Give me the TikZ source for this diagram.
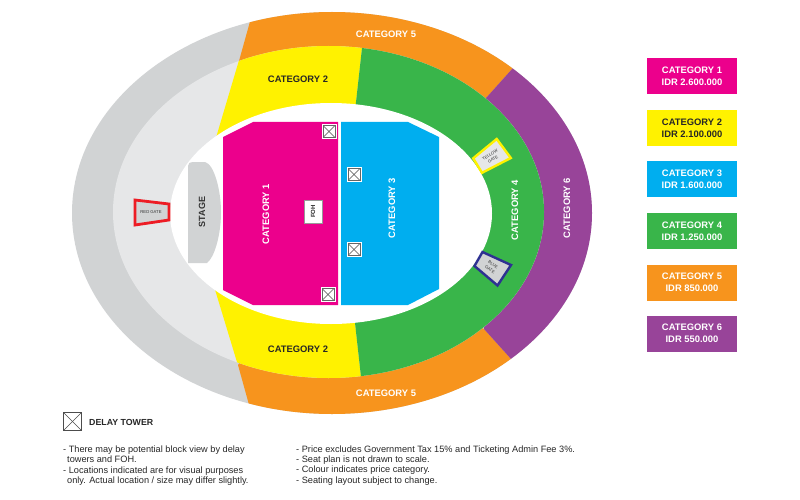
\documentclass[tikz,border=0pt]{standalone}
\usepackage{fontspec}
\setmainfont{Liberation Sans}
\definecolor{catpink}{HTML}{EC008C}
\definecolor{catyellow}{HTML}{FFF200}
\definecolor{catblue}{HTML}{00AEEF}
\definecolor{catgreen}{HTML}{39B54A}
\definecolor{catorange}{HTML}{F7941D}
\definecolor{catpurple}{HTML}{984499}
\definecolor{seatgray}{HTML}{D1D3D4}
\definecolor{floorgray}{HTML}{E6E7E8}
\definecolor{gatered}{HTML}{ED1C24}
\definecolor{gatenavy}{HTML}{2E3192}
\tikzset{
  lbl/.style={font=\bfseries\fontsize{9.4}{10.5}\selectfont, text=white, inner sep=0pt, align=center},
  lbldark/.style={lbl, text=black!85},
  pricebox/.style={minimum width=90, minimum height=36, inner sep=0pt, font=\bfseries\fontsize{9.4}{12}\selectfont, text=white, align=center},
  gatetxt/.style={font=\fontsize{4.2}{5.6}\selectfont, text=black!80, inner sep=0pt, align=center},
  note/.style={font=\fontsize{9.2}{10.3}\selectfont, text=black!85, inner sep=0pt, align=left, anchor=north west},
  crossed/.style={path picture={
      \draw[black!70, line width=0.6pt] (path picture bounding box.north west) -- (path picture bounding box.south east);
      \draw[black!70, line width=0.6pt] (path picture bounding box.north east) -- (path picture bounding box.south west);}},
  tower/.style={crossed, draw=black!60, line width=0.5pt, fill=white, minimum size=12, inner sep=0pt,
      preaction={draw=white, line width=3pt}},
}
\begin{document}
\begin{tikzpicture}[x=1pt, y=-1pt]
        \useasboundingbox (0, 0) rectangle (800, 500);

        % Outer ring
        \fill[seatgray] (332, 213) ellipse [x radius=260, y radius=201];
        \begin{scope}
            \clip (256, 0) -- (574, 0) -- (486, 98) -- (330, 200) -- (239, 61) -- cycle;
            \fill[catorange] (332, 213) ellipse [x radius=260, y radius=201]; % Top
        \end{scope}
        \begin{scope}
            \clip (256, 430) -- (575, 430) -- (484, 329) -- (330, 230) -- (238, 365) -- cycle;
            \fill[catorange] (332, 213) ellipse [x radius=260, y radius=201]; % Bottom
        \end{scope}
        \begin{scope}
            \clip (574, 0) -- (640, 0) -- (640, 430) -- (575, 430) -- (484, 329) -- (486, 98) -- cycle;
            \fill[catpurple] (332, 213) ellipse [x radius=260, y radius=201];
        \end{scope}

        % Middle ring
        \fill[floorgray] (328.5, 212) ellipse [x radius=215.5, y radius=166];
        \begin{scope}
            \clip (248, 30) -- (364, 30) -- (354, 120) -- (207, 168) -- cycle;
            \fill[catyellow] (328.5, 212) ellipse [x radius=215.5, y radius=166]; % Top
        \end{scope}
        \begin{scope}
            \clip (247, 395) -- (363, 395) -- (353, 305) -- (206, 260) -- cycle;
            \fill[catyellow] (328.5, 212) ellipse [x radius=215.5, y radius=166]; % Bottom
        \end{scope}
        \begin{scope}
            \clip (364, 30) -- (560, 30) -- (560, 395) -- (363, 395) -- (353, 305) -- (354, 120) -- cycle;
            \fill[catgreen] (328.5, 212) ellipse [x radius=215.5, y radius=166];
        \end{scope}

        % Arena floor
        \fill[white] (331, 213.5) ellipse [x radius=161, y radius=110.5];
        \fill[catpink] (223, 137) -- (253, 122) -- (338, 122) -- (338, 305) -- (253, 305) -- (223, 290) -- cycle;
        \fill[catblue] (341, 122) -- (408, 122) -- (439, 137) -- (439, 289) -- (408, 305) -- (341, 305) -- cycle;

        % Stage
        \fill[seatgray] (188, 166) .. controls (188, 163) and (190, 162) .. (193, 162) -- (205, 162)
            .. controls (214, 164) and (221, 190) .. (221, 212)
            .. controls (221, 236) and (214, 258) .. (207, 263) -- (188, 263) -- cycle;
        \node[lbldark, text=black!80, font=\bfseries\fontsize{9}{10}\selectfont, rotate=90] (stage) at (202, 212) {STAGE};

        % Gates
        \draw[gatered, line width=2.8pt, fill=seatgray] (135, 200) -- (169, 204) -- (169, 220) -- (135, 225) -- cycle;
        \node[gatetxt] (redgate) at (151, 212) {RED GATE};
        \draw[catyellow, line width=2.4pt, fill=floorgray] (496.7, 139) -- (510.8, 158) -- (482, 172.8) -- (473.2, 158.3) -- cycle;
        \node[gatetxt, rotate=33] (yellowgate) at (491.5, 157) {YELLOW\\GATE};
        \draw[gatenavy, line width=2.4pt, fill=seatgray] (482.5, 252) -- (511, 265) -- (497.5, 285.5) -- (474.5, 266) -- cycle;
        \node[gatetxt, rotate=-35] (bluegate) at (491.5, 267) {BLUE\\GATE};

        % Delay towers and FOH
        \node[tower] (tower1) at (329, 131.5) {};
        \node[tower] (tower2) at (354, 174.5) {};
        \node[tower] (tower3) at (354, 249.5) {};
        \node[tower] (tower4) at (328, 294.5) {};
        \node[draw=black!40, line width=0.4pt, fill=white, minimum width=18, minimum height=23, inner sep=0pt] (foh) at (313, 211.5) {};
        \node[font=\bfseries\fontsize{6}{7}\selectfont, text=black!85, rotate=90, inner sep=0pt] (fohtxt) at (313, 211.5) {FOH};

        % Section labels
        \node[lbl] (top5) at (386, 34.5) {CATEGORY 5};
        \node[lbl] (bottom5) at (386, 393) {CATEGORY 5};
        \node[lbldark] (top2) at (298, 79.5) {CATEGORY 2};
        \node[lbldark] (bottom2) at (298, 349) {CATEGORY 2};
        \node[lbl, rotate=90] (sec1) at (266, 214) {CATEGORY 1};
        \node[lbl, rotate=90] (sec3) at (392, 208) {CATEGORY 3};
        \node[lbl, rotate=90] (sec4) at (515, 210) {CATEGORY 4};
        \node[lbl, rotate=90] (sec6) at (567, 208) {CATEGORY 6};

        % Price list
        \node[pricebox, fill=catpink] (price1) at (692, 76) {CATEGORY 1\\IDR 2.600.000};
        \node[pricebox, fill=catyellow, text=black!85] (price2) at (692, 128) {CATEGORY 2\\IDR 2.100.000};
        \node[pricebox, fill=catblue] (price3) at (692, 179) {CATEGORY 3\\IDR 1.600.000};
        \node[pricebox, fill=catgreen] (price4) at (692, 231) {CATEGORY 4\\IDR 1.250.000};
        \node[pricebox, fill=catorange] (price5) at (692, 282.5) {CATEGORY 5\\IDR 850.000};
        \node[pricebox, fill=catpurple] (price6) at (692, 333.5) {CATEGORY 6\\IDR 550.000};

        % Legend and notes
        \node[crossed, draw=black!70, line width=0.8pt, minimum size=18, inner sep=0pt] (keytower) at (72.5, 421.5) {};
        \node[font=\bfseries\fontsize{8.8}{10}\selectfont, text=black!85, inner sep=0pt, anchor=west] (keytxt) at (89, 422) {DELAY TOWER};
        \node[note] (notesleft) at (63, 445.8) {- There may be potential block view by delay\\
            \hspace*{4pt}towers and FOH.\\
            - Locations indicated are for visual purposes\\
            \hspace*{4pt}only. Actual location / size may differ slightly.};
        \node[note] (notesright) at (296, 445.5) {- Price excludes Government Tax 15\% and Ticketing Admin Fee 3\%.\\
            - Seat plan is not drawn to scale.\\
            - Colour indicates price category.\\
            - Seating layout subject to change.};

    \end{tikzpicture}
\end{document}
